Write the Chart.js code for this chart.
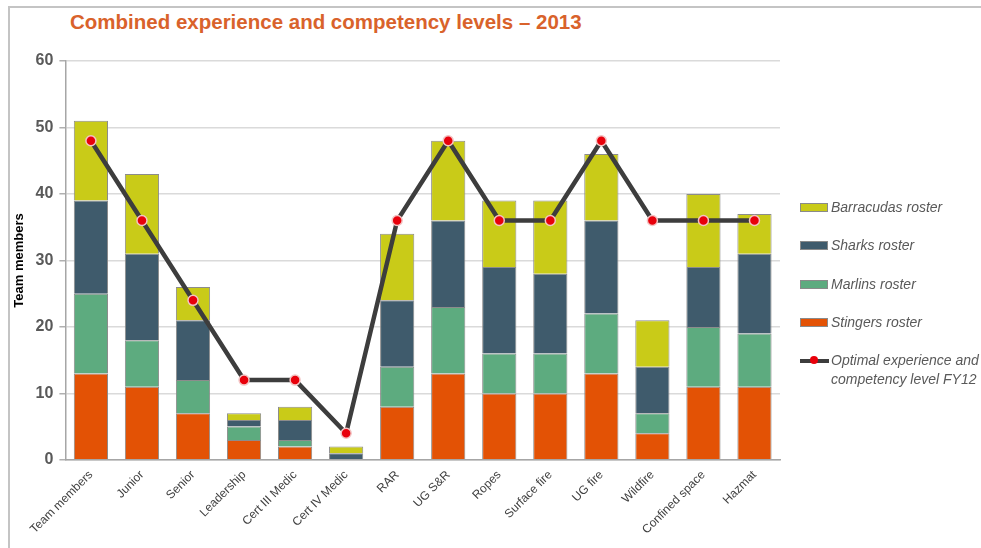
<!DOCTYPE html>
<html>
<head>
<meta charset="utf-8">
<script src="https://cdn.jsdelivr.net/npm/chart.js@4.4.1/dist/chart.umd.min.js"></script>
<style>
  html, body { margin: 0; padding: 0; background: #fff; }
  body { width: 981px; height: 548px; position: relative; overflow: hidden; font-family: Arial, "Liberation Sans", sans-serif; }
  #frame { position: absolute; left: 8px; top: 6px; right: -4px; bottom: -4px; border-top: 2px solid #c4c4c4; border-left: 2px solid #c4c4c4; }
  #title { position: absolute; left: 70px; top: 10px; font-size: 20.5px; font-weight: bold; color: #d9622b; }
  #wrap { position: absolute; left: 10px; top: 8px; width: 971px; height: 540px; }
  #legend { position: absolute; left: 800px; top: 199px; font-style: italic; font-size: 14px; color: #595959; }
  .item { position: relative; height: 38.3px; padding-left: 31px; line-height: 17px; }
  .item.two { line-height: 19px; margin-top: -1px; }
  .swatch { position: absolute; left: 0; top: 4px; width: 26px; height: 7px; border: 1px solid #8a8a8a; }
  .lineKey { position: absolute; left: 0; top: 8px; width: 29px; height: 4px; background: #3d3d3d; }
  .lineKey::after { content: ""; position: absolute; left: 10px; top: -3px; width: 8px; height: 8px; border-radius: 50%; background: #e8000b; }
</style>
</head>
<body>
<div id="frame"></div>
<div id="title">Combined experience and competency levels – 2013</div>
<div id="wrap"><canvas id="skillsChart"></canvas></div>
<div id="legend"></div>
<script>
const categories = ['Team members', 'Junior', 'Senior', 'Leadership', 'Cert III Medic', 'Cert IV Medic', 'RAR',
    'UG S&R', 'Ropes', 'Surface fire', 'UG fire', 'Wildfire', 'Confined space', 'Hazmat'];

const stingers   = [13, 11, 7, 3, 2, 0,  8, 13, 10, 10, 13, 4, 11, 11];
const marlins    = [12,  7, 5, 2, 1, 0,  6, 10,  6,  6,  9, 3,  9,  8];
const sharks     = [14, 13, 9, 1, 3, 1, 10, 13, 13, 12, 14, 7,  9, 12];
const barracudas = [12, 12, 5, 1, 2, 1, 10, 12, 10, 11, 10, 7, 11,  6];
const optimal    = [48, 36, 24, 12, 12, 4, 36, 48, 36, 36, 48, 36, 36, 36];

const yTicks = [0, 10, 20, 30, 40, 50, 60];

const barSeries = [
    { label: 'Stingers roster', data: stingers, color: '#e35205' },
    { label: 'Marlins roster', data: marlins, color: '#5dab7f' },
    { label: 'Sharks roster', data: sharks, color: '#3f5b6c' },
    { label: 'Barracudas roster', data: barracudas, color: '#c9cb18' }
];
const lineLabel = ['Optimal experience and', 'competency level FY12'];

const datasets = barSeries.map(s => ({
    type: 'bar',
    label: s.label,
    data: s.data,
    backgroundColor: s.color,
    borderColor: '#8c8c8c',
    borderWidth: 1,
    barPercentage: 0.67,
    categoryPercentage: 1,
    order: 1
}));
datasets.push({
    type: 'line',
    label: lineLabel.join(' '),
    data: optimal,
    stack: 'optimal',
    borderColor: '#3d3d3d',
    borderWidth: 4.5,
    pointRadius: 5,
    pointBackgroundColor: '#e8000b',
    pointBorderColor: '#f3c4c4',
    pointBorderWidth: 1.5,
    tension: 0,
    order: 0
});

const ctx = document.getElementById('skillsChart').getContext('2d');
new Chart(ctx, {
    data: { labels: categories, datasets: datasets },
    options: {
        responsive: true,
        maintainAspectRatio: false,
        animation: false,
        layout: { padding: { top: 53, right: 201, bottom: 11, left: 2 } },
        plugins: { legend: { display: false }, tooltip: { enabled: false } },
        scales: {
            x: {
                stacked: true,
                grid: { display: false },
                border: { display: true, color: '#a6a6a6', width: 1.5 },
                ticks: {
                    minRotation: 45, maxRotation: 45,
                    color: '#404040',
                    font: { family: 'Arial', size: 12 },
                    padding: 0
                }
            },
            y: {
                stacked: true,
                min: 0, max: 60,
                afterBuildTicks: axis => { axis.ticks = yTicks.map(v => ({ value: v })); },
                grid: { color: '#dadada', lineWidth: 1.5, tickLength: 6, tickColor: '#b0b0b0' },
                border: { display: true, color: '#a6a6a6', width: 1.5 },
                ticks: { color: '#595959', font: { family: 'Arial', size: 16, weight: 'bold' }, padding: 6 },
                title: {
                    display: true,
                    text: 'Team members',
                    color: '#000',
                    font: { family: 'Arial', size: 13, weight: 'bold' },
                    padding: { top: 0, bottom: 2 }
                }
            }
        }
    }
});

// legend on the right, top item is the last bar series
const legend = document.getElementById('legend');
barSeries.slice().reverse().forEach(s => {
    const item = document.createElement('div');
    item.className = 'item';
    item.innerHTML = '<span class="swatch" style="background:' + s.color + '"></span>' + s.label;
    legend.appendChild(item);
});
const lineItem = document.createElement('div');
lineItem.className = 'item two';
lineItem.innerHTML = '<span class="lineKey"></span>' + lineLabel.join('<br>');
legend.appendChild(lineItem);
</script>
</body>
</html>
